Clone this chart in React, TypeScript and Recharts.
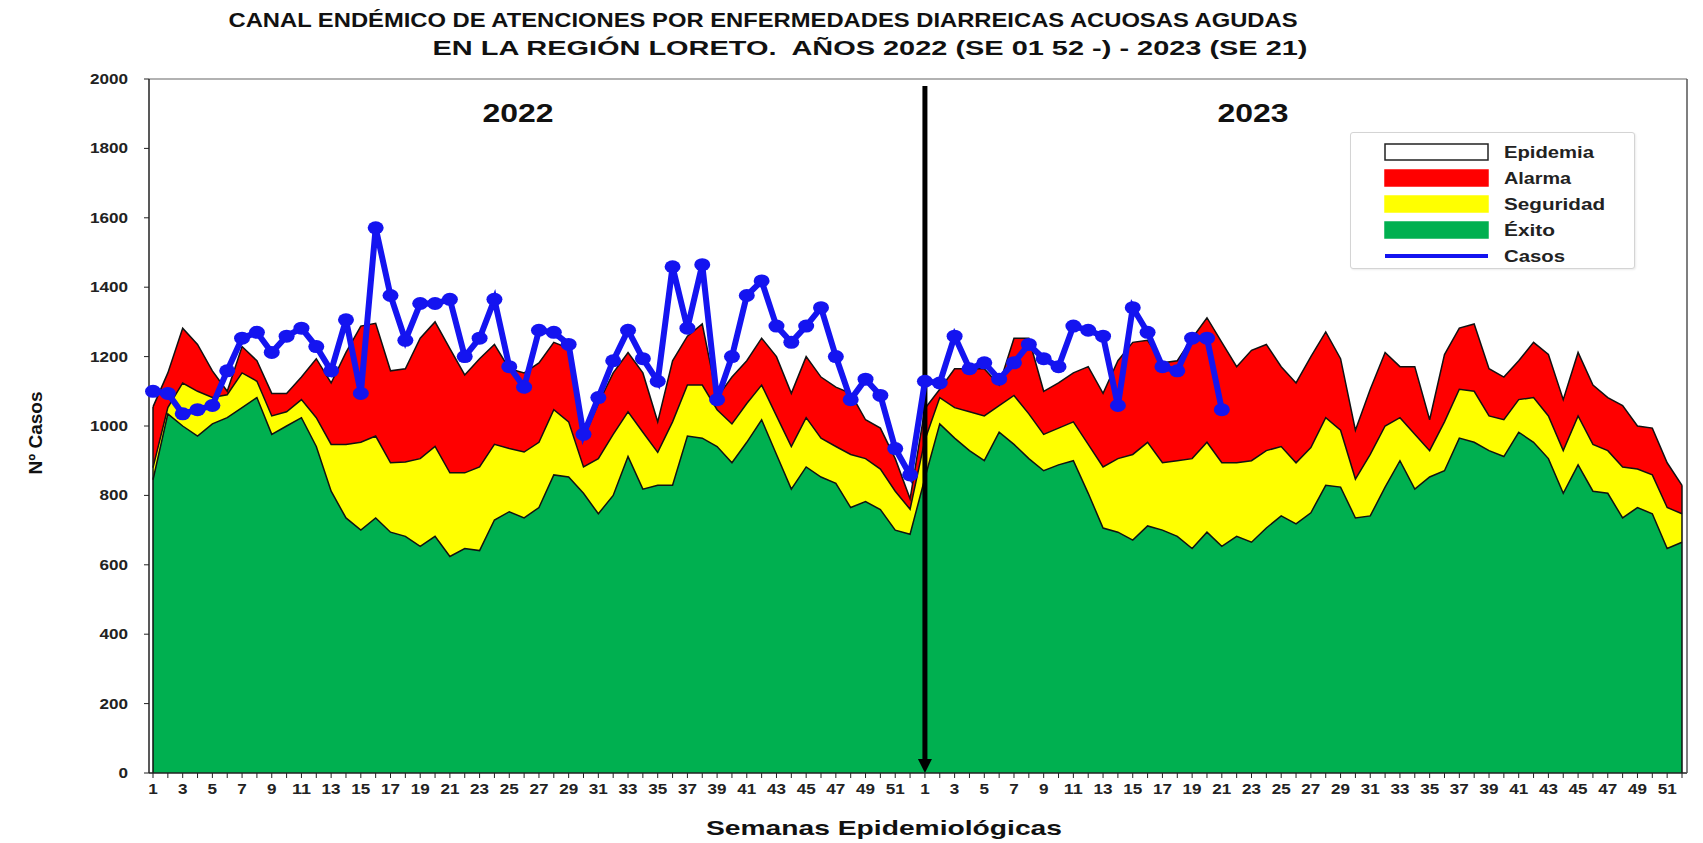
import React from "react";
import {
  ComposedChart, Area, Line, XAxis, YAxis, ReferenceLine, Legend,
} from "recharts";

// semanas epidemiológicas (se repiten para 2022 y 2023)
const SEMANAS = [
  1, 2, 3, 4, 5, 6, 7, 8, 9, 10, 11, 12, 13, 14, 15, 16, 17, 18, 19, 20, 21, 22, 23, 24, 25, 26,
  27, 28, 29, 30, 31, 32, 33, 34, 35, 36, 37, 38, 39, 40, 41, 42, 43, 44, 45, 46, 47, 48, 49, 50, 51, 52,
];

// límites del canal endémico (valor superior de cada zona)
const EXITO_2022 = [
  845, 1035, 1000, 971, 1006, 1024, 1053, 1082, 976, 1000, 1024, 941, 812, 735, 700, 735, 694, 682, 653, 682,
  624, 647, 641, 729, 753, 735, 765, 859, 853, 806, 747, 800, 912, 818, 829, 829, 971, 965, 941, 894,
  953, 1018, 918, 818, 882, 853, 835, 765, 782, 759, 700, 688,
];
const SEGURIDAD_2022 = [
  880, 1053, 1124, 1100, 1082, 1090, 1153, 1129, 1029, 1041, 1076, 1024, 947, 947, 953, 971, 894, 896, 906, 941,
  865, 865, 882, 947, 935, 925, 953, 1047, 1012, 882, 906, 976, 1041, 982, 924, 1012, 1118, 1118, 1047, 1006,
  1065, 1118, 1029, 941, 1024, 965, 941, 918, 906, 876, 812, 760,
];
const ALARMA_2022 = [
  1055, 1153, 1282, 1235, 1159, 1100, 1229, 1188, 1094, 1094, 1141, 1194, 1124, 1212, 1288, 1296, 1159, 1165, 1253, 1300,
  1223, 1147, 1194, 1235, 1165, 1153, 1182, 1241, 1224, 965, 1065, 1153, 1212, 1153, 1012, 1188, 1259, 1294, 1082, 1141,
  1188, 1253, 1200, 1094, 1200, 1141, 1112, 1094, 1018, 994, 906, 790,
];
const EXITO_2023 = [
  850, 1006, 965, 929, 900, 982, 947, 906, 871, 888, 900, 806, 706, 694, 671, 712, 700, 682, 647, 694,
  653, 682, 665, 706, 741, 718, 750, 829, 824, 735, 741, 824, 900, 818, 853, 871, 965, 953, 929, 912,
  982, 953, 906, 806, 888, 812, 806, 735, 765, 747, 647, 665,
];
const SEGURIDAD_2023 = [
  960, 1082, 1053, 1041, 1029, 1059, 1088, 1035, 976, 994, 1012, 947, 882, 906, 918, 953, 894, 900, 906, 953,
  894, 894, 900, 929, 941, 894, 938, 1024, 988, 847, 918, 1000, 1024, 976, 929, 1012, 1106, 1100, 1029, 1018,
  1076, 1082, 1029, 929, 1029, 947, 929, 882, 876, 859, 765, 747,
];
const ALARMA_2023 = [
  1050, 1106, 1165, 1165, 1165, 1118, 1253, 1253, 1100, 1124, 1153, 1171, 1094, 1188, 1241, 1247, 1182, 1188, 1253, 1312,
  1241, 1171, 1218, 1235, 1171, 1124, 1200, 1271, 1194, 988, 1106, 1212, 1171, 1171, 1018, 1206, 1282, 1294, 1165, 1141,
  1188, 1241, 1206, 1076, 1212, 1118, 1082, 1059, 1000, 994, 894, 829,
];

// casos notificados
const CASOS_2022 = [
  1100, 1094, 1035, 1047, 1059, 1159, 1253, 1270, 1212, 1259, 1282, 1229, 1159, 1306, 1094, 1571, 1376, 1247, 1353, 1353,
  1365, 1200, 1253, 1365, 1171, 1112, 1276, 1270, 1235, 976, 1082, 1188, 1276, 1194, 1129, 1459, 1282, 1465, 1076, 1200,
  1376, 1418, 1288, 1241, 1288, 1341, 1200, 1076, 1135, 1088, 935, 859,
];
const CASOS_2023 = [
  1129, 1124, 1259, 1165, 1182, 1135, 1182, 1235, 1194, 1171, 1288, 1276, 1259, 1059, 1341, 1270, 1171, 1159, 1253, 1253,
  1047,
];

const Y_TICKS = [0, 200, 400, 600, 800, 1000, 1200, 1400, 1600, 1800, 2000];

const LEYENDA = [
  { nombre: "Epidemia", color: "#FFFFFF", tipo: "caja", ancho: 90 },
  { nombre: "Alarma", color: "#FF0000", tipo: "caja", ancho: 67 },
  { nombre: "Seguridad", color: "#FFFF00", tipo: "caja", ancho: 101 },
  { nombre: "Éxito", color: "#00B050", tipo: "caja", ancho: 51 },
  { nombre: "Casos", color: "#1414F0", tipo: "linea", ancho: 61 },
];

const FONT = '"Liberation Sans", Arial, sans-serif';

const data = [
  ...SEMANAS.map((s, k) => ({
    i: k, semana: s,
    exito: EXITO_2022[k], seguridad: SEGURIDAD_2022[k], alarma: ALARMA_2022[k],
    casos: CASOS_2022[k],
  })),
  ...SEMANAS.map((s, k) => ({
    i: 52 + k, semana: s,
    exito: EXITO_2023[k], seguridad: SEGURIDAD_2023[k], alarma: ALARMA_2023[k],
    casos: k < CASOS_2023.length ? CASOS_2023[k] : null,
  })),
];
const ULTIMO = data.length - 1;

const YTick = (props: any) => {
  const { x, y, payload } = props;
  const s = String(payload.value);
  return (
    <text x={x} y={y} dy={5} textAnchor="end" fontFamily={FONT} fontSize={15} fontWeight="bold"
      fill="#222" textLength={s.length * 9.5} lengthAdjust="spacingAndGlyphs">{s}</text>
  );
};

const XTick = (props: any) => {
  const { x, y, payload } = props;
  const row = data[payload.value];
  if (!row || row.semana % 2 === 0) return <g />;
  const s = String(row.semana);
  return (
    <text x={x} y={y} dy={14} textAnchor="middle" fontFamily={FONT} fontSize={15} fontWeight="bold"
      fill="#222" textLength={s.length * 9.5} lengthAdjust="spacingAndGlyphs">{s}</text>
  );
};

const CasosDot = (props: any) => {
  const { cx, cy, value, index } = props;
  if (value == null || cy == null) return <g key={`d-${index}`} />;
  return <ellipse key={`d-${index}`} cx={cx} cy={cy} rx={8} ry={6.5} fill="#1414F0" />;
};

// flecha vertical que separa 2022 de 2023
const Flecha = (props: any) => {
  const { x1, y1, x2, y2 } = props;
  const top = Math.min(y1, y2);
  const bottom = Math.max(y1, y2);
  return (
    <g>
      <line x1={x1} y1={top} x2={x2} y2={bottom - 12} stroke="#000" strokeWidth={5} />
      <polygon points={`${x1 - 7},${bottom - 14} ${x1 + 7},${bottom - 14} ${x1},${bottom}`} fill="#000" />
    </g>
  );
};

const LeyendaBox = () => (
  <div style={{
    width: 285, height: 137, boxSizing: "border-box", border: "1px solid #d4d4d4",
    borderRadius: 3, background: "#fff", boxShadow: "1px 1px 2px rgba(0,0,0,0.08)",
  }}>
    <svg width={283} height={135}>
      {LEYENDA.map((it, k) => {
        const cy = 19 + k * 26;
        return (
          <g key={it.nombre}>
            {it.tipo === "caja" ? (
              <rect x={34} y={cy - 8} width={103} height={16} fill={it.color}
                stroke={it.nombre === "Epidemia" ? "#222" : it.color} strokeWidth={1.5} />
            ) : (
              <line x1={34} y1={cy} x2={137} y2={cy} stroke={it.color} strokeWidth={4} />
            )}
            <text x={153} y={cy + 6} fontFamily={FONT} fontSize={16} fontWeight="bold" fill="#222"
              textLength={it.ancho} lengthAdjust="spacingAndGlyphs">{it.nombre}</text>
          </g>
        );
      })}
    </svg>
  </div>
);

export default function App() {
  return (
    <div style={{ position: "absolute", left: 0, top: 0, width: 1703, height: 843, background: "#fff" }}>
      <ComposedChart width={1703} height={843} data={data}
        margin={{ top: 79, right: 15, bottom: 40, left: 79 }}>
        <XAxis dataKey="i" type="number" domain={[0, ULTIMO]} ticks={data.map((d) => d.i)} interval={0}
          padding={{ left: 4, right: 5 }} tick={<XTick />} tickSize={5} height={30}
          tickLine={{ stroke: "#222" }} axisLine={{ stroke: "#222", strokeWidth: 1.5 }} />
        <YAxis domain={[0, 2000]} ticks={Y_TICKS} tick={<YTick />} tickSize={5} tickMargin={16} width={70}
          tickLine={{ stroke: "#222" }} axisLine={{ stroke: "#222", strokeWidth: 1.5 }} />
        <YAxis yAxisId="marco" orientation="right" domain={[0, 2000]} tick={false} tickLine={false}
          width={1} axisLine={{ stroke: "#555", strokeWidth: 1.5 }} />
        <ReferenceLine y={2000} stroke="#999" strokeWidth={1.5} />

        <Area type="linear" dataKey="alarma" name="Alarma" fill="#FF0000" fillOpacity={1}
          stroke="#111" strokeWidth={1.5} isAnimationActive={false} />
        <Area type="linear" dataKey="seguridad" name="Seguridad" fill="#FFFF00" fillOpacity={1}
          stroke="#111" strokeWidth={1.5} isAnimationActive={false} />
        <Area type="linear" dataKey="exito" name="Éxito" fill="#00B050" fillOpacity={1}
          stroke="#111" strokeWidth={1.5} isAnimationActive={false} />

        <ReferenceLine segment={[{ x: 0, y: 0 }, { x: 0, y: ALARMA_2022[0] }]} stroke="#111" strokeWidth={1.5} />
        <ReferenceLine segment={[{ x: ULTIMO, y: 0 }, { x: ULTIMO, y: ALARMA_2023[51] }]} stroke="#111" strokeWidth={1.5} />
        <ReferenceLine segment={[{ x: 52, y: 1980 }, { x: 52, y: 0 }]} shape={<Flecha />} />

        <Line type="linear" dataKey="casos" name="Casos" stroke="#1414F0" strokeWidth={6}
          dot={<CasosDot />} activeDot={false} connectNulls={false} isAnimationActive={false} />

        <Legend layout="vertical" align="center" verticalAlign="middle" content={<LeyendaBox />}
          wrapperStyle={{ left: 1350, top: 132, width: 285, height: 137 }} />
      </ComposedChart>

      <svg width={1703} height={843} style={{ position: "absolute", left: 0, top: 0, pointerEvents: "none" }}>
        <g fontFamily={FONT} fontWeight="bold" fill="#111" textAnchor="middle">
          <text x={763} y={27} fontSize={20} textLength={1069} lengthAdjust="spacingAndGlyphs">
            CANAL ENDÉMICO DE ATENCIONES POR ENFERMEDADES DIARREICAS ACUOSAS AGUDAS
          </text>
          <text x={870} y={55} fontSize={20} textLength={875} lengthAdjust="spacingAndGlyphs"
            style={{ whiteSpace: "pre" }}>
            {"EN LA REGIÓN LORETO.  AÑOS 2022 (SE 01 52 -) - 2023 (SE 21)"}
          </text>
          <text x={518} y={122} fontSize={26} textLength={71} lengthAdjust="spacingAndGlyphs">2022</text>
          <text x={1253} y={122} fontSize={26} textLength={71} lengthAdjust="spacingAndGlyphs">2023</text>
          <text x={884} y={835} fontSize={21} textLength={356} lengthAdjust="spacingAndGlyphs">
            Semanas Epidemiológicas
          </text>
          <text transform="translate(42,433) rotate(-90)" fontSize={19}>Nº Casos</text>
        </g>
      </svg>
    </div>
  );
}
